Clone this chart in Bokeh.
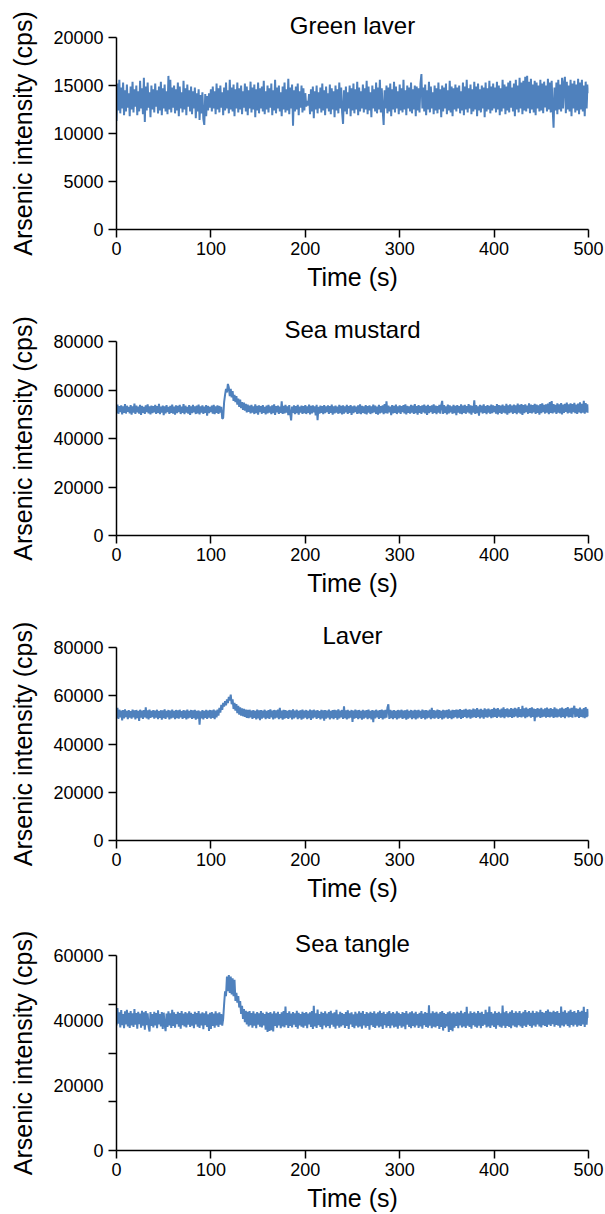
from bokeh.plotting import figure
from bokeh.models import Range1d, FixedTicker, LinearAxis
from bokeh.layouts import column
from bokeh.embed import file_html
from bokeh.resources import INLINE

# ---------------- data (1 sample per second) ----------------
sample_interval_s = 1
n_points = 501
time_s = [i * sample_interval_s for i in range(n_points)]

green_laver = [
    11300, 15200, 12400, 15600, 12100, 14800, 12600, 15300, 11900, 14500, 12300, 15100, 12700, 14200, 11800, 14900, 12500, 15400, 12200, 14600,
    12800, 15000, 11900, 14400, 12300, 15500, 12600, 14700, 12000, 15800, 11200, 14900, 12400, 15300, 12700, 14300, 11700, 15000, 12500, 14600,
    12200, 15200, 12800, 14500, 12100, 14900, 12400, 15400, 11900, 14700, 12600, 15100, 12300, 14400, 12000, 16000, 12500, 15600, 12200, 14800,
    12700, 15000, 12100, 14600, 12400, 15300, 11800, 14900, 12600, 14300, 12200, 15500, 12500, 14700, 11900, 15100, 12800, 14500, 12300, 14900,
    12000, 14400, 12600, 14800, 11600, 14200, 12300, 14600, 11400, 14000, 12100, 14300, 11500, 10900, 14100, 11800, 13900, 12400, 14200, 12700,
    14600, 12300, 14900, 12600, 14400, 12000, 15200, 12500, 14700, 12200, 15000, 12700, 14300, 11900, 14800, 12400, 15300, 12600, 14500, 12100,
    15600, 12500, 14800, 12300, 15100, 11800, 14600, 12600, 15300, 12200, 14700, 12500, 15000, 12000, 14400, 12700, 15200, 12300, 14900, 11900,
    14500, 12600, 15400, 12200, 14800, 12500, 15100, 11700, 14600, 12400, 15300, 12100, 14700, 12600, 14900, 12300, 15500, 12000, 14400, 12500,
    15000, 12200, 14700, 12700, 15200, 11900, 14500, 12400, 15600, 12100, 14800, 12600, 15000, 12300, 14300, 11800, 14900, 12500, 15300, 12200,
    14600, 12400, 15700, 12000, 14800, 12600, 15100, 10800, 14500, 12300, 14900, 12500, 15200, 11900, 14400, 12700, 15000, 12200, 14700, 12400,
    14200, 12800, 13400, 12900, 14100, 12000, 14600, 12300, 14900, 11600, 14400, 12500, 15000, 12100, 14300, 12600, 14800, 12200, 15200, 12400,
    14500, 11900, 14900, 12600, 14200, 12300, 15100, 12000, 14700, 12500, 14400, 11700, 15000, 12400, 14600, 12100, 15300, 12600, 14800, 12200,
    11000, 14500, 12300, 14900, 12000, 14300, 12600, 15000, 11800, 14700, 12400, 15200, 12100, 14600, 12500, 15400, 11900, 14800, 12300, 14400,
    12600, 15100, 12200, 14700, 12500, 15500, 12000, 14900, 12400, 14300, 11700, 15000, 12600, 14600, 12300, 15300, 12100, 14800, 12500, 15600,
    12200, 14700, 12400, 10900, 14500, 12600, 15000, 12100, 14800, 12300, 15200, 11800, 14600, 12500, 15400, 12200, 14900, 12600, 14400, 12000,
    15100, 12400, 14700, 12200, 15600, 12500, 14500, 11900, 15000, 12600, 14800, 12300, 15300, 12100, 14600, 12500, 15000, 11800, 14900, 12400,
    14700, 12200, 15200, 16200, 12600, 14800, 12300, 15100, 11900, 14500, 12500, 15400, 12200, 14900, 12600, 14300, 12000, 15000, 12400, 14700,
    12100, 15300, 12500, 14600, 11700, 15000, 12300, 14800, 12600, 15200, 12000, 14500, 12400, 15500, 12200, 14900, 11800, 14700, 12500, 15100,
    12300, 14800, 12600, 15000, 12100, 14400, 12400, 15300, 11900, 14900, 12500, 15600, 12200, 14700, 12600, 15100, 12000, 14600, 12300, 15400,
    12500, 14900, 11800, 15200, 12400, 14600, 12200, 15000, 12600, 14800, 11700, 15300, 12300, 14700, 12500, 15500, 12100, 14900, 12400, 15200,
    12600, 14800, 12200, 15400, 12500, 15000, 11900, 14700, 12300, 15600, 12600, 15100, 12000, 14900, 12400, 15300, 12200, 15500, 12700, 14800,
    12300, 15200, 11800, 15600, 12500, 15000, 12200, 15800, 12600, 15300, 12000, 15500, 12400, 15900, 12300, 16000, 12600, 15400, 12100, 15700,
    12500, 15100, 12200, 15500, 11900, 15300, 12600, 15000, 12300, 15600, 12400, 15200, 12100, 15400, 12700, 15000, 12300, 15700, 12500, 15300,
    12200, 15500, 12600, 10600, 14800, 12400, 15300, 12000, 15600, 12500, 15100, 12300, 15800, 12600, 15200, 15900, 12100, 15400, 12500, 15000,
    12300, 15600, 11800, 15200, 12600, 15500, 12200, 15100, 12400, 15700, 12000, 15300, 12500, 15600, 12300, 15000, 11800, 15400, 12600, 15100,
    14200,
]

sea_mustard = [
    50500, 54000, 50200, 53400, 50900, 53700, 49900, 53200, 50600, 54200, 50300, 53500, 51000, 53000, 50400, 53800, 49800, 53300, 50700, 54400,
    50100, 53600, 50800, 53100, 50300, 53900, 49700, 53400, 50600, 53000, 50200, 53700, 50900, 54100, 50400, 53200, 49900, 53600, 50500, 53300,
    50800, 53900, 50100, 53400, 50600, 54300, 50000, 53100, 50700, 53600, 49600, 53300, 50400, 53800, 50900, 53000, 50200, 53500, 50600, 54000,
    50300, 53200, 49800, 53700, 50500, 53400, 50900, 53900, 50100, 53100, 50600, 54200, 50000, 53500, 50700, 53000, 50300, 53800, 49700, 53300,
    50500, 53900, 50800, 53200, 50100, 53600, 50400, 54000, 49900, 53300, 50700, 53700, 50200, 53100, 50600, 53800, 49400, 53400, 50500, 53000,
    50900, 53600, 50300, 53900, 50000, 53300, 50600, 53700, 50200, 53400, 50700, 53100, 48200, 48500, 55000, 58000, 60500, 59000, 62500, 61000,
    57500, 60500, 57000, 59500, 55500, 58000, 55000, 57500, 54000, 56500, 53000, 56000, 52500, 55000, 51800, 54800, 51500, 54300, 50800, 54000,
    51000, 53600, 50400, 53900, 50700, 53200, 50100, 54100, 50500, 53500, 49800, 53700, 50900, 53300, 50200, 53800, 50600, 53000, 49900, 53600,
    50400, 53900, 50700, 53200, 50000, 53700, 50500, 54100, 49700, 53400, 50800, 53600, 50200, 53100, 50600, 55300, 50100, 53500, 50400, 53900,
    50700, 53300, 49600, 53800, 50300, 47500, 53200, 50600, 53700, 50000, 53400, 50500, 53900, 49800, 53100, 50700, 53600, 50200, 53400, 50500,
    53800, 50100, 53200, 50600, 54000, 49900, 53500, 50400, 53700, 50800, 53300, 49500, 53900, 47600, 53100, 50300, 53600, 50600, 53400, 50000,
    53800, 50500, 53200, 50900, 53700, 50100, 53400, 50600, 54000, 49800, 53300, 50400, 53600, 50700, 53100, 50200, 53900, 50500, 53500, 49900,
    53700, 50300, 53200, 50800, 53900, 50100, 53400, 50600, 53800, 49700, 53300, 50500, 53600, 50900, 53100, 50200, 53700, 50400, 54100, 50000,
    53500, 50600, 53200, 50300, 53800, 49900, 53400, 50700, 53700, 50100, 53300, 50500, 54000, 50800, 53600, 50200, 53100, 49800, 53900, 50400,
    53400, 50700, 53700, 50000, 54200, 50500, 55300, 50300, 53600, 50800, 53200, 49600, 53800, 50400, 53500, 50600, 54000, 50100, 53300, 50700,
    53700, 50200, 53400, 50900, 53800, 50400, 54100, 49900, 53500, 50600, 53200, 50300, 53900, 50700, 53600, 50100, 54200, 50500, 53400, 49800,
    53800, 50600, 53300, 50200, 53700, 50800, 54000, 50400, 53500, 49700, 53900, 50500, 53300, 50900, 53700, 50200, 54100, 50600, 53600, 50000,
    53400, 50700, 53900, 50300, 53600, 55500, 50100, 53800, 50600, 53300, 49900, 54000, 50400, 53700, 50800, 53200, 50200, 53900, 50500, 53500,
    49600, 53800, 50700, 53400, 50300, 54100, 50000, 53600, 50600, 53900, 50200, 53300, 50800, 54200, 50400, 53700, 49800, 53500, 50700, 55700,
    50100, 53800, 50500, 53300, 49400, 53900, 50800, 53600, 50300, 54100, 50600, 53400, 50000, 53800, 50700, 53500, 50200, 54000, 50500, 53700,
    50900, 53400, 50300, 54200, 49900, 53800, 50600, 53600, 50100, 54000, 50700, 53500, 50400, 54300, 49800, 53700, 50500, 54100, 50800, 53600,
    50200, 54000, 50600, 53700, 50000, 54400, 50700, 53900, 50300, 54200, 49700, 53800, 50500, 54100, 50900, 53600, 50200, 54500, 50600, 54000,
    50400, 53800, 50800, 54300, 50100, 54000, 50600, 53700, 49800, 54200, 50500, 54500, 50900, 53900, 50300, 54100, 50700, 54400, 50000, 55000,
    50600, 55400, 50300, 54200, 50800, 53900, 50100, 54500, 50700, 54100, 50400, 54600, 49900, 54000, 50600, 54300, 51000, 54800, 50300, 54100,
    50700, 54500, 50200, 54200, 50900, 54700, 50500, 54000, 50100, 54400, 50800, 54900, 50400, 54300, 50700, 55500, 50200, 54600, 50800, 54100,
    50600,
]

laver = [
    50800, 55000, 50400, 54200, 51000, 53800, 49800, 54100, 50600, 54400, 51100, 53700, 50300, 54000, 50900, 53600, 50500, 54300, 51000, 53900,
    50200, 54100, 50700, 53700, 49600, 54200, 50900, 53800, 50400, 54000, 51000, 55200, 50600, 53900, 50200, 54300, 50800, 53700, 51100, 54000,
    50500, 53800, 50900, 54200, 50300, 53600, 50800, 54000, 50100, 53900, 50700, 54400, 50400, 53700, 51000, 54100, 50200, 53800, 50600, 54300,
    50900, 53700, 50300, 54100, 50700, 53900, 50500, 54200, 51000, 53600, 50400, 54000, 50800, 53800, 50200, 54300, 50600, 53700, 50900, 54100,
    50400, 53900, 50700, 54200, 50100, 53700, 50500, 53900, 48000, 53500, 50600, 54000, 50200, 53700, 50800, 54200, 50400, 53800, 50900, 54100,
    50500, 53900, 50800, 54300, 50300, 53800, 51000, 54200, 51800, 55000, 53000, 56200, 54200, 57000, 55500, 57800, 56000, 58500, 57000, 59500,
    58000, 60500, 56500, 58500, 54500, 57000, 53800, 56500, 52800, 55800, 52200, 55200, 51800, 54800, 51500, 54600, 51200, 54300, 50800, 54100,
    50700, 54200, 51000, 53800, 50400, 54000, 50800, 53700, 50200, 54300, 50600, 53900, 49900, 54100, 50500, 53800, 50900, 54200, 50300, 53700,
    50700, 54000, 50400, 54400, 51000, 53800, 50200, 54100, 50600, 53900, 50900, 54300, 50300, 55000, 50700, 53800, 50100, 54200, 50500, 54000,
    50800, 53700, 50400, 54100, 50900, 53900, 50200, 54400, 50600, 53800, 51000, 54200, 50300, 53700, 50700, 54000, 50100, 54300, 50500, 53800,
    50900, 54100, 50300, 53700, 50700, 54300, 50000, 53900, 50600, 54200, 51000, 53800, 50400, 54000, 50800, 53600, 50200, 54200, 50600, 53900,
    49700, 54100, 50500, 53800, 50900, 54300, 50200, 53700, 50700, 54000, 50300, 54200, 50800, 53900, 50100, 54400, 50600, 53800, 51000, 54100,
    50400, 55600, 50700, 53900, 50200, 54200, 50600, 53700, 50900, 54100, 49200, 53800, 50500, 54300, 50800, 53900, 50300, 54100, 50700, 53700,
    50100, 54200, 50500, 53800, 50900, 54000, 50300, 54300, 50700, 53700, 50200, 54100, 49000, 53900, 50600, 54200, 51000, 53800, 50400, 54000,
    50800, 54300, 50200, 53900, 50600, 54100, 50900, 55000, 56500, 50400, 54200, 50700, 53800, 50300, 54000, 50800, 53700, 50200, 54100, 50600,
    53900, 50900, 54200, 50400, 53800, 50700, 54000, 50100, 54300, 50500, 53700, 50900, 54100, 50300, 53800, 50700, 54200, 50200, 53900, 50600,
    54100, 51000, 53700, 50400, 54300, 50800, 53900, 50200, 54000, 50600, 53800, 50900, 54200, 50300, 55000, 50700, 54100, 50500, 53800, 50900,
    54300, 50400, 54000, 50800, 53700, 50200, 54200, 50600, 53900, 51000, 54100, 50500, 54400, 50800, 53800, 50300, 54200, 50700, 54000, 51100,
    54300, 50600, 54100, 50900, 54500, 50400, 54000, 50800, 54300, 51200, 54600, 50700, 54100, 51000, 54400, 50500, 54200, 50900, 54700, 51100,
    54400, 50800, 54900, 51200, 54300, 50600, 54600, 51000, 54200, 50500, 54800, 51100, 54400, 50900, 54700, 51300, 54300, 50700, 54500, 51000,
    55000, 51200, 54600, 50800, 54900, 51400, 54300, 50900, 54700, 51100, 55200, 50700, 54500, 51300, 54800, 51000, 54400, 51200, 54900, 50800,
    54600, 51100, 55000, 51400, 54700, 50900, 55300, 51200, 54500, 51000, 55800, 51300, 54800, 50700, 55100, 51100, 54600, 51400, 54900, 50900,
    55200, 51200, 54700, 49500, 54500, 51000, 54900, 51300, 54600, 50800, 55000, 51100, 54400, 51300, 54800, 50900, 55100, 51200, 54600, 51000,
    54900, 51300, 54500, 50800, 55200, 51100, 54700, 51000, 54400, 51300, 54800, 50900, 55100, 51200, 54600, 50700, 54900, 51400, 55300, 51000,
    54700, 51200, 55000, 50900, 54500, 55800, 51100, 54800, 51300, 54600, 50800, 55100, 51200, 54400, 51000, 54900, 50700, 55300, 51100, 54600,
    51500,
]

sea_tangle = [
    38500, 43800, 39000, 42500, 37900, 43200, 38600, 42000, 37600, 42800, 38800, 43300, 38200, 42400, 37700, 42900, 38500, 42200, 38000, 43500,
    38700, 42300, 37500, 42700, 38900, 42100, 37800, 43000, 38400, 42500, 37200, 42900, 38600, 42200, 38100, 36600, 42600, 38300, 42000, 37900,
    42700, 38500, 42300, 37600, 43100, 38800, 42000, 38200, 42600, 37400, 42400, 38700, 36700, 42100, 38000, 42800, 38500, 42200, 37700, 43300,
    38300, 42500, 37800, 42000, 38900, 42700, 38100, 42300, 37500, 42900, 38600, 42100, 38200, 42600, 37900, 42200, 38700, 42800, 38000, 42400,
    38400, 42000, 37600, 42700, 38800, 42300, 38100, 42900, 37700, 42100, 38500, 42500, 37300, 42200, 38600, 42800, 38000, 41900, 36800, 42400,
    37400, 42600, 38300, 42100, 37800, 42800, 38500, 42200, 38000, 42500, 38700, 42000, 38400, 40500, 45000, 49000, 47500, 53500, 49000, 54000,
    48500, 53500, 48000, 53000, 47500, 52500, 46000, 48500, 45500, 47500, 44000, 46000, 42000, 44500, 40500, 43500, 39500, 43000, 38800, 42700,
    38200, 42900, 38600, 42300, 37800, 42800, 38400, 42100, 37600, 42600, 38700, 42200, 38100, 42900, 37900, 42400, 38500, 42000, 37200, 42700,
    36500, 42300, 36800, 42600, 37000, 42100, 36600, 42800, 38300, 42200, 37800, 42700, 38500, 42000, 37600, 42500, 38200, 42900, 37900, 44300,
    38600, 42300, 37700, 42800, 38300, 42100, 37900, 42600, 38700, 42200, 38000, 43000, 37500, 42400, 38500, 42000, 38100, 42700, 37800, 42300,
    38400, 42600, 37600, 42100, 38800, 42500, 38000, 42900, 37400, 44500, 38200, 42200, 37700, 43400, 38600, 42000, 38000, 42700, 37300, 42300,
    38500, 42800, 37900, 42100, 38300, 42600, 37600, 43000, 38700, 42200, 38100, 42500, 37500, 43300, 38400, 41900, 37800, 42700, 38200, 42300,
    38600, 42000, 37700, 42600, 38300, 43100, 37400, 42200, 38800, 42500, 38000, 41900, 37600, 42700, 38400, 42100, 37900, 42800, 38200, 42400,
    37500, 42900, 38500, 42000, 37800, 42600, 38300, 42200, 37200, 42700, 38600, 42300, 38000, 42800, 37700, 42100, 38400, 42500, 37900, 43000,
    38200, 42300, 37400, 42700, 38600, 42000, 37800, 42500, 38300, 42900, 37600, 42200, 38500, 42600, 37900, 42100, 38100, 42800, 37500, 42400,
    38400, 42000, 37800, 42600, 38200, 42300, 37300, 42900, 38700, 42100, 38000, 42500, 37600, 42800, 38300, 42200, 37900, 42700, 38500, 42000,
    37700, 42400, 38200, 42900, 37500, 42100, 38600, 42600, 38000, 42300, 37800, 44700, 38400, 42200, 37600, 42800, 38100, 42400, 37900, 42700,
    38300, 42100, 37400, 42600, 38000, 42900, 36900, 42300, 37700, 42000, 38200, 42500, 36500, 42800, 37100, 42200, 36700, 42600, 37800, 42100,
    38300, 42700, 37600, 42400, 38500, 43000, 37900, 42200, 38200, 42600, 37700, 44200, 38400, 42100, 38000, 42800, 37500, 42300, 38600, 42700,
    38100, 42200, 37800, 42900, 38400, 42400, 37600, 42700, 38300, 42000, 38700, 43300, 37900, 42500, 38200, 44300, 37700, 42600, 38500, 42100,
    38000, 42800, 37500, 42300, 38600, 42700, 38100, 42200, 37800, 44600, 38400, 42500, 37700, 42900, 38300, 42200, 38000, 42700, 37600, 43100,
    38500, 42300, 38100, 42800, 37900, 42400, 38600, 42900, 38200, 42200, 37700, 42700, 38400, 43200, 38000, 42500, 38700, 42900, 38300, 42400,
    37800, 43000, 38500, 42300, 38100, 42800, 38800, 42500, 38200, 43300, 37900, 42600, 38600, 42400, 38300, 42900, 38000, 43400, 38700, 42700,
    38300, 42500, 38900, 43000, 38100, 42600, 38600, 42900, 38400, 42300, 37800, 44300, 38500, 42700, 38200, 43100, 38800, 42400, 38300, 42800,
    37900, 43300, 38600, 42600, 38200, 42900, 38700, 42400, 38100, 43200, 38500, 42700, 38300, 43000, 38800, 44200, 38000, 42600, 38700, 43500,
    40800,
]

titles = ["Green laver", "Sea mustard", "Laver", "Sea tangle"]
series = [green_laver, sea_mustard, laver, sea_tangle]
y_max = [20000, 80000, 80000, 60000]
# positions of the y tick marks
y_tick_marks = [
    [0, 5000, 10000, 15000, 20000],
    [0, 20000, 40000, 60000, 80000],
    [0, 20000, 40000, 60000, 80000],
    [0, 15000, 30000, 45000, 60000],
]
# positions of the y tick labels
y_tick_labels = [
    [0, 5000, 10000, 15000, 20000],
    [0, 20000, 40000, 60000, 80000],
    [0, 20000, 40000, 60000, 80000],
    [0, 20000, 40000, 60000],
]
x_ticks = [0, 100, 200, 300, 400, 500]

# ---------------- style / layout ----------------
FONT = "Liberation Sans"
LINE_COLOR = "#4F81BD"
panel_heights = [311, 306, 307, 290]
border_tops = [37, 30, 30, 31]
border_bottoms = [82, 82, 84, 64]
TICK_FS = "18px"
LABEL_FS = "25px"
TITLE_FS = "24px"


def style_axis(ax):
    ax.axis_line_color = "black"
    ax.axis_line_width = 1.5
    ax.major_tick_line_color = "black"
    ax.major_tick_line_width = 1.5
    ax.major_tick_out = 8
    ax.major_tick_in = 0
    ax.minor_tick_line_color = None
    ax.major_label_text_font = FONT
    ax.major_label_text_font_size = TICK_FS
    ax.major_label_text_color = "black"
    ax.axis_label_text_font = FONT
    ax.axis_label_text_font_size = LABEL_FS
    ax.axis_label_text_font_style = "normal"
    ax.axis_label_text_color = "black"
    ax.major_label_standoff = 5


plots = []
for k in range(4):
    p = figure(
        width=605, height=panel_heights[k],
        output_backend="svg", toolbar_location=None,
        x_range=Range1d(0, 500), y_range=Range1d(0, y_max[k]),
        y_axis_location=None,
        min_border_left=116, min_border_right=17,
        min_border_top=border_tops[k], min_border_bottom=border_bottoms[k],
    )
    p.line(time_s, series[k], line_color=LINE_COLOR, line_width=2)

    p.title.text = titles[k]
    p.title.align = "center"
    p.title.text_font = FONT
    p.title.text_font_size = TITLE_FS
    p.title.text_font_style = "normal"
    p.title.text_color = "black"
    p.title.standoff = -3

    p.outline_line_color = None
    p.xgrid.visible = False

    xa = p.xaxis[0]
    style_axis(xa)
    xa.ticker = FixedTicker(ticks=x_ticks)
    xa.major_label_standoff = 4
    xa.axis_label = "Time (s)"
    xa.axis_label_standoff = 5

    same = y_tick_marks[k] == y_tick_labels[k]
    if same:
        ya = LinearAxis(ticker=FixedTicker(ticks=y_tick_labels[k]))
        style_axis(ya)
        ya.axis_label = "Arsenic intensity (cps)"
        ya.axis_label_standoff = 13
        p.add_layout(ya, "left")
    else:
        # inner axis: line and tick marks only
        ya_marks = LinearAxis(ticker=FixedTicker(ticks=y_tick_marks[k]))
        style_axis(ya_marks)
        ya_marks.major_label_overrides = {v: "" for v in y_tick_marks[k]}
        ya_marks.major_label_standoff = 0
        p.add_layout(ya_marks, "left")
        # outer axis: labels only
        ya_lab = LinearAxis(ticker=FixedTicker(ticks=y_tick_labels[k]))
        style_axis(ya_lab)
        ya_lab.axis_line_color = None
        ya_lab.major_tick_line_color = None
        ya_lab.major_tick_out = 0
        ya_lab.major_label_standoff = 5
        ya_lab.axis_label = "Arsenic intensity (cps)"
        ya_lab.axis_label_standoff = 13
        p.add_layout(ya_lab, "left")
    p.ygrid.visible = False
    plots.append(p)

layout = column(*plots, spacing=0)
open("out.html", "w").write(file_html(layout, INLINE))
